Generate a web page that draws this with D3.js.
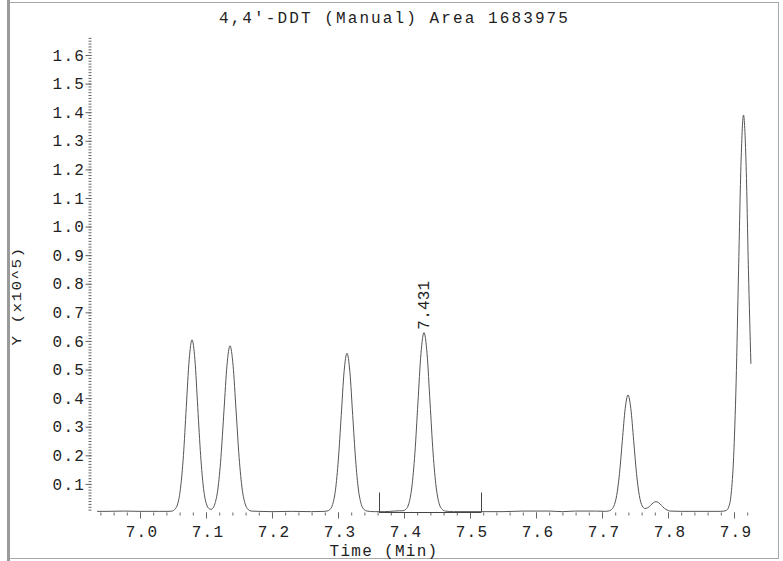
<!DOCTYPE html>
<html><head><meta charset="utf-8">
<script src="https://cdn.jsdelivr.net/npm/d3@7"></script>
<style>html,body{margin:0;padding:0;background:#fff;overflow:hidden;} svg{display:block;}</style>
</head><body>
<svg id="c" width="783" height="561"></svg>
<script>
// ---- data ----
const titleText = "4,4\u2032-DDT (Manual) Area 1683975";
const xLabelText = "Time (Min)";
const yLabelText = "Y (x10^5)";
const xTickValues = [7.0, 7.1, 7.2, 7.3, 7.4, 7.5, 7.6, 7.7, 7.8, 7.9];
const xTickLabels = ["7.0", "7.1", "7.2", "7.3", "7.4", "7.5", "7.6", "7.7", "7.8", "7.9"];
const yTickValues = [0.1, 0.2, 0.3, 0.4, 0.5, 0.6, 0.7, 0.8, 0.9, 1.0, 1.1, 1.2, 1.3, 1.4, 1.5, 1.6];
const yTickLabels = ["0.1", "0.2", "0.3", "0.4", "0.5", "0.6", "0.7", "0.8", "0.9", "1.0", "1.1", "1.2", "1.3", "1.4", "1.5", "1.6"];
const peakLabelTime = 7.4303;
const peakLabelValue = 0.629;
const peakLabelText = "7.431";
const markerTimes = [7.3621, 7.5167];
const markerValue = 0.07;
const traceTime = [
  6.935, 6.950, 6.975, 7.000, 7.030, 7.0440, 7.0484, 7.0527, 7.0571, 7.0614, 7.0658, 7.0701, 7.0745,
  7.0788, 7.0832, 7.0875, 7.0919, 7.0962, 7.1006, 7.1049, 7.1075, 7.1100, 7.1134, 7.1180, 7.1226,
  7.1272, 7.1318, 7.1364, 7.1410, 7.1456, 7.1502, 7.1548, 7.1594, 7.1640, 7.1686, 7.1800, 7.2000,
  7.2300, 7.2600, 7.2790, 7.2831, 7.2875, 7.2918, 7.2962, 7.3005, 7.3049, 7.3092, 7.3136, 7.3180,
  7.3223, 7.3267, 7.3310, 7.3354, 7.3397, 7.3441, 7.3550, 7.3700, 7.3850, 7.3930, 7.3981, 7.4027,
  7.4073, 7.4119, 7.4165, 7.4211, 7.4257, 7.4303, 7.4349, 7.4395, 7.4441, 7.4487, 7.4533, 7.4579,
  7.4625, 7.4750, 7.5000, 7.5500, 7.5800, 7.6200, 7.6400, 7.6600, 7.6900, 7.7050, 7.7093, 7.7136,
  7.7179, 7.7222, 7.7265, 7.7308, 7.7351, 7.7394, 7.7437, 7.7480, 7.7523, 7.7566, 7.7609, 7.7652,
  7.7695, 7.7735, 7.7777, 7.7818, 7.7860, 7.7901, 7.7943, 7.7985, 7.8030, 7.8200, 7.8500, 7.8800,
  7.8844, 7.8882, 7.8919, 7.8957, 7.8994, 7.9032, 7.9069, 7.9107, 7.9144, 7.9182, 7.9219, 7.9256
];
const traceValue = [
  0.004, 0.004, 0.005, 0.004, 0.004, 0.004, 0.005, 0.011, 0.030, 0.085, 0.199, 0.368, 0.534,
  0.604, 0.534, 0.368, 0.199, 0.085, 0.030, 0.013, 0.011, 0.014, 0.030, 0.082, 0.192,
  0.355, 0.515, 0.583, 0.515, 0.355, 0.192, 0.082, 0.030, 0.010, 0.005, 0.004, 0.003,
  0.004, 0.003, 0.004, 0.005, 0.010, 0.028, 0.079, 0.184, 0.339, 0.492, 0.557, 0.492,
  0.339, 0.184, 0.079, 0.028, 0.010, 0.005, 0.003, 0.003, 0.005, 0.006, 0.006, 0.011,
  0.031, 0.089, 0.207, 0.383, 0.556, 0.629, 0.556, 0.383, 0.207, 0.089, 0.031, 0.011,
  0.005, 0.003, 0.003, 0.003, 0.005, 0.005, 0.003, 0.005, 0.005, 0.004, 0.005, 0.009,
  0.022, 0.059, 0.136, 0.251, 0.363, 0.411, 0.363, 0.251, 0.136, 0.059, 0.023, 0.014,
  0.017, 0.025, 0.034, 0.038, 0.034, 0.025, 0.015, 0.009, 0.005, 0.004, 0.004, 0.004,
  0.005, 0.007, 0.019, 0.065, 0.192, 0.454, 0.845, 1.227, 1.390, 1.227, 0.845, 0.520
];

// ---- layout ----
const W = 783, H = 561;
const svg = d3.select("#c");
const x = d3.scaleLinear().domain([7.0, 7.9]).range([140, 734]);
const y = d3.scaleLinear().domain([0, 1.6]).range([512.5, 55]);
const FONT = "'Liberation Mono', 'DejaVu Sans Mono', monospace";
const textColor = "#222";
const tickColor = "#666";

// frame
svg.append("rect").attr("x", 9.5).attr("y", 2.5).attr("width", 769).attr("height", 556)
  .attr("fill", "none").attr("stroke", "#a8a8a8").attr("stroke-width", 1);
svg.append("rect").attr("x", 7).attr("y", 0).attr("width", 3).attr("height", H).attr("fill", "#9a9a9a");

// title
svg.append("text").attr("x", 394.5).attr("y", 23).attr("text-anchor", "middle")
  .attr("font-family", FONT).attr("font-size", 16).attr("letter-spacing", 2.1)
  .attr("fill", textColor).text(titleText);

// y axis: minor ticks
const yMinor = d3.range(1, 167).map(d => d / 100);
const yAxisMinor = d3.axisLeft(y).tickValues(yMinor).tickSize(3).tickFormat("");
const gyMin = svg.append("g").attr("transform", "translate(91.5,0)").call(yAxisMinor);
gyMin.select(".domain").remove();
gyMin.selectAll("line").attr("stroke", tickColor);

// y axis: major ticks + labels
const yAxisMajor = d3.axisLeft(y).tickValues(yTickValues).tickSize(6).tickPadding(0.5)
  .tickFormat((d, i) => yTickLabels[i]);
const gyMaj = svg.append("g").attr("transform", "translate(91.5,0)").call(yAxisMajor);
gyMaj.select(".domain").remove();
gyMaj.selectAll("line").attr("stroke", tickColor);
gyMaj.selectAll("text").attr("font-family", FONT).attr("font-size", 16)
  .attr("letter-spacing", 1.2).attr("fill", textColor);

// x axis: minor ticks
const xMinor = d3.range(347, 397).map(d => d / 50);
const xAxisMinor = d3.axisBottom(x).tickValues(xMinor).tickSize(3).tickFormat("");
const gxMin = svg.append("g").attr("transform", "translate(0,512.5)").call(xAxisMinor);
gxMin.select(".domain").remove();
gxMin.selectAll("line").attr("stroke", tickColor);

// x axis: major ticks + labels
const xAxisMajor = d3.axisBottom(x).tickValues(xTickValues).tickSize(6).tickPadding(7.6)
  .tickFormat((d, i) => xTickLabels[i]);
const gxMaj = svg.append("g").attr("transform", "translate(0,512.5)").call(xAxisMajor);
gxMaj.select(".domain").remove();
gxMaj.selectAll("line").attr("stroke", tickColor);
gxMaj.selectAll("text").attr("font-family", FONT).attr("font-size", 16)
  .attr("letter-spacing", 1.2).attr("dx", 1.5).attr("fill", textColor);

// axis titles
svg.append("text").attr("x", 384).attr("y", 556).attr("text-anchor", "middle")
  .attr("font-family", FONT).attr("font-size", 16).attr("letter-spacing", 1.3)
  .attr("fill", textColor).text(xLabelText);
svg.append("text").attr("transform", "translate(20.5,296) scale(0.8,1) rotate(-90)")
  .attr("text-anchor", "middle")
  .attr("font-family", FONT).attr("font-size", 16).attr("letter-spacing", 1.4)
  .attr("fill", textColor).text(yLabelText);

// integration markers and baseline
svg.append("line").attr("x1", x(markerTimes[0])).attr("x2", x(markerTimes[1]))
  .attr("y1", y(0)).attr("y2", y(0)).attr("stroke", "#444").attr("stroke-width", 1);
svg.selectAll("line.marker").data(markerTimes).enter().append("line").attr("class", "marker")
  .attr("x1", d => Math.round(x(d)) + 0.5).attr("x2", d => Math.round(x(d)) + 0.5)
  .attr("y1", y(0)).attr("y2", y(markerValue)).attr("stroke", "#444").attr("stroke-width", 1);

// trace
const pts = traceTime.map((t, i) => [t, traceValue[i]]);
const line = d3.line().x(d => x(d[0])).y(d => y(d[1])).curve(d3.curveMonotoneX);
svg.append("path").datum(pts).attr("d", line).attr("fill", "none")
  .attr("stroke", "#555").attr("stroke-width", 1);

// peak label
const px = x(peakLabelTime) + 5, py = y(peakLabelValue) - 3;
svg.append("text").attr("transform", `translate(${px},${py}) rotate(-90)`)
  .attr("text-anchor", "start").attr("font-family", FONT).attr("font-size", 16)
  .attr("letter-spacing", 0.2).attr("fill", textColor).text(peakLabelText);
</script>
</body></html>
